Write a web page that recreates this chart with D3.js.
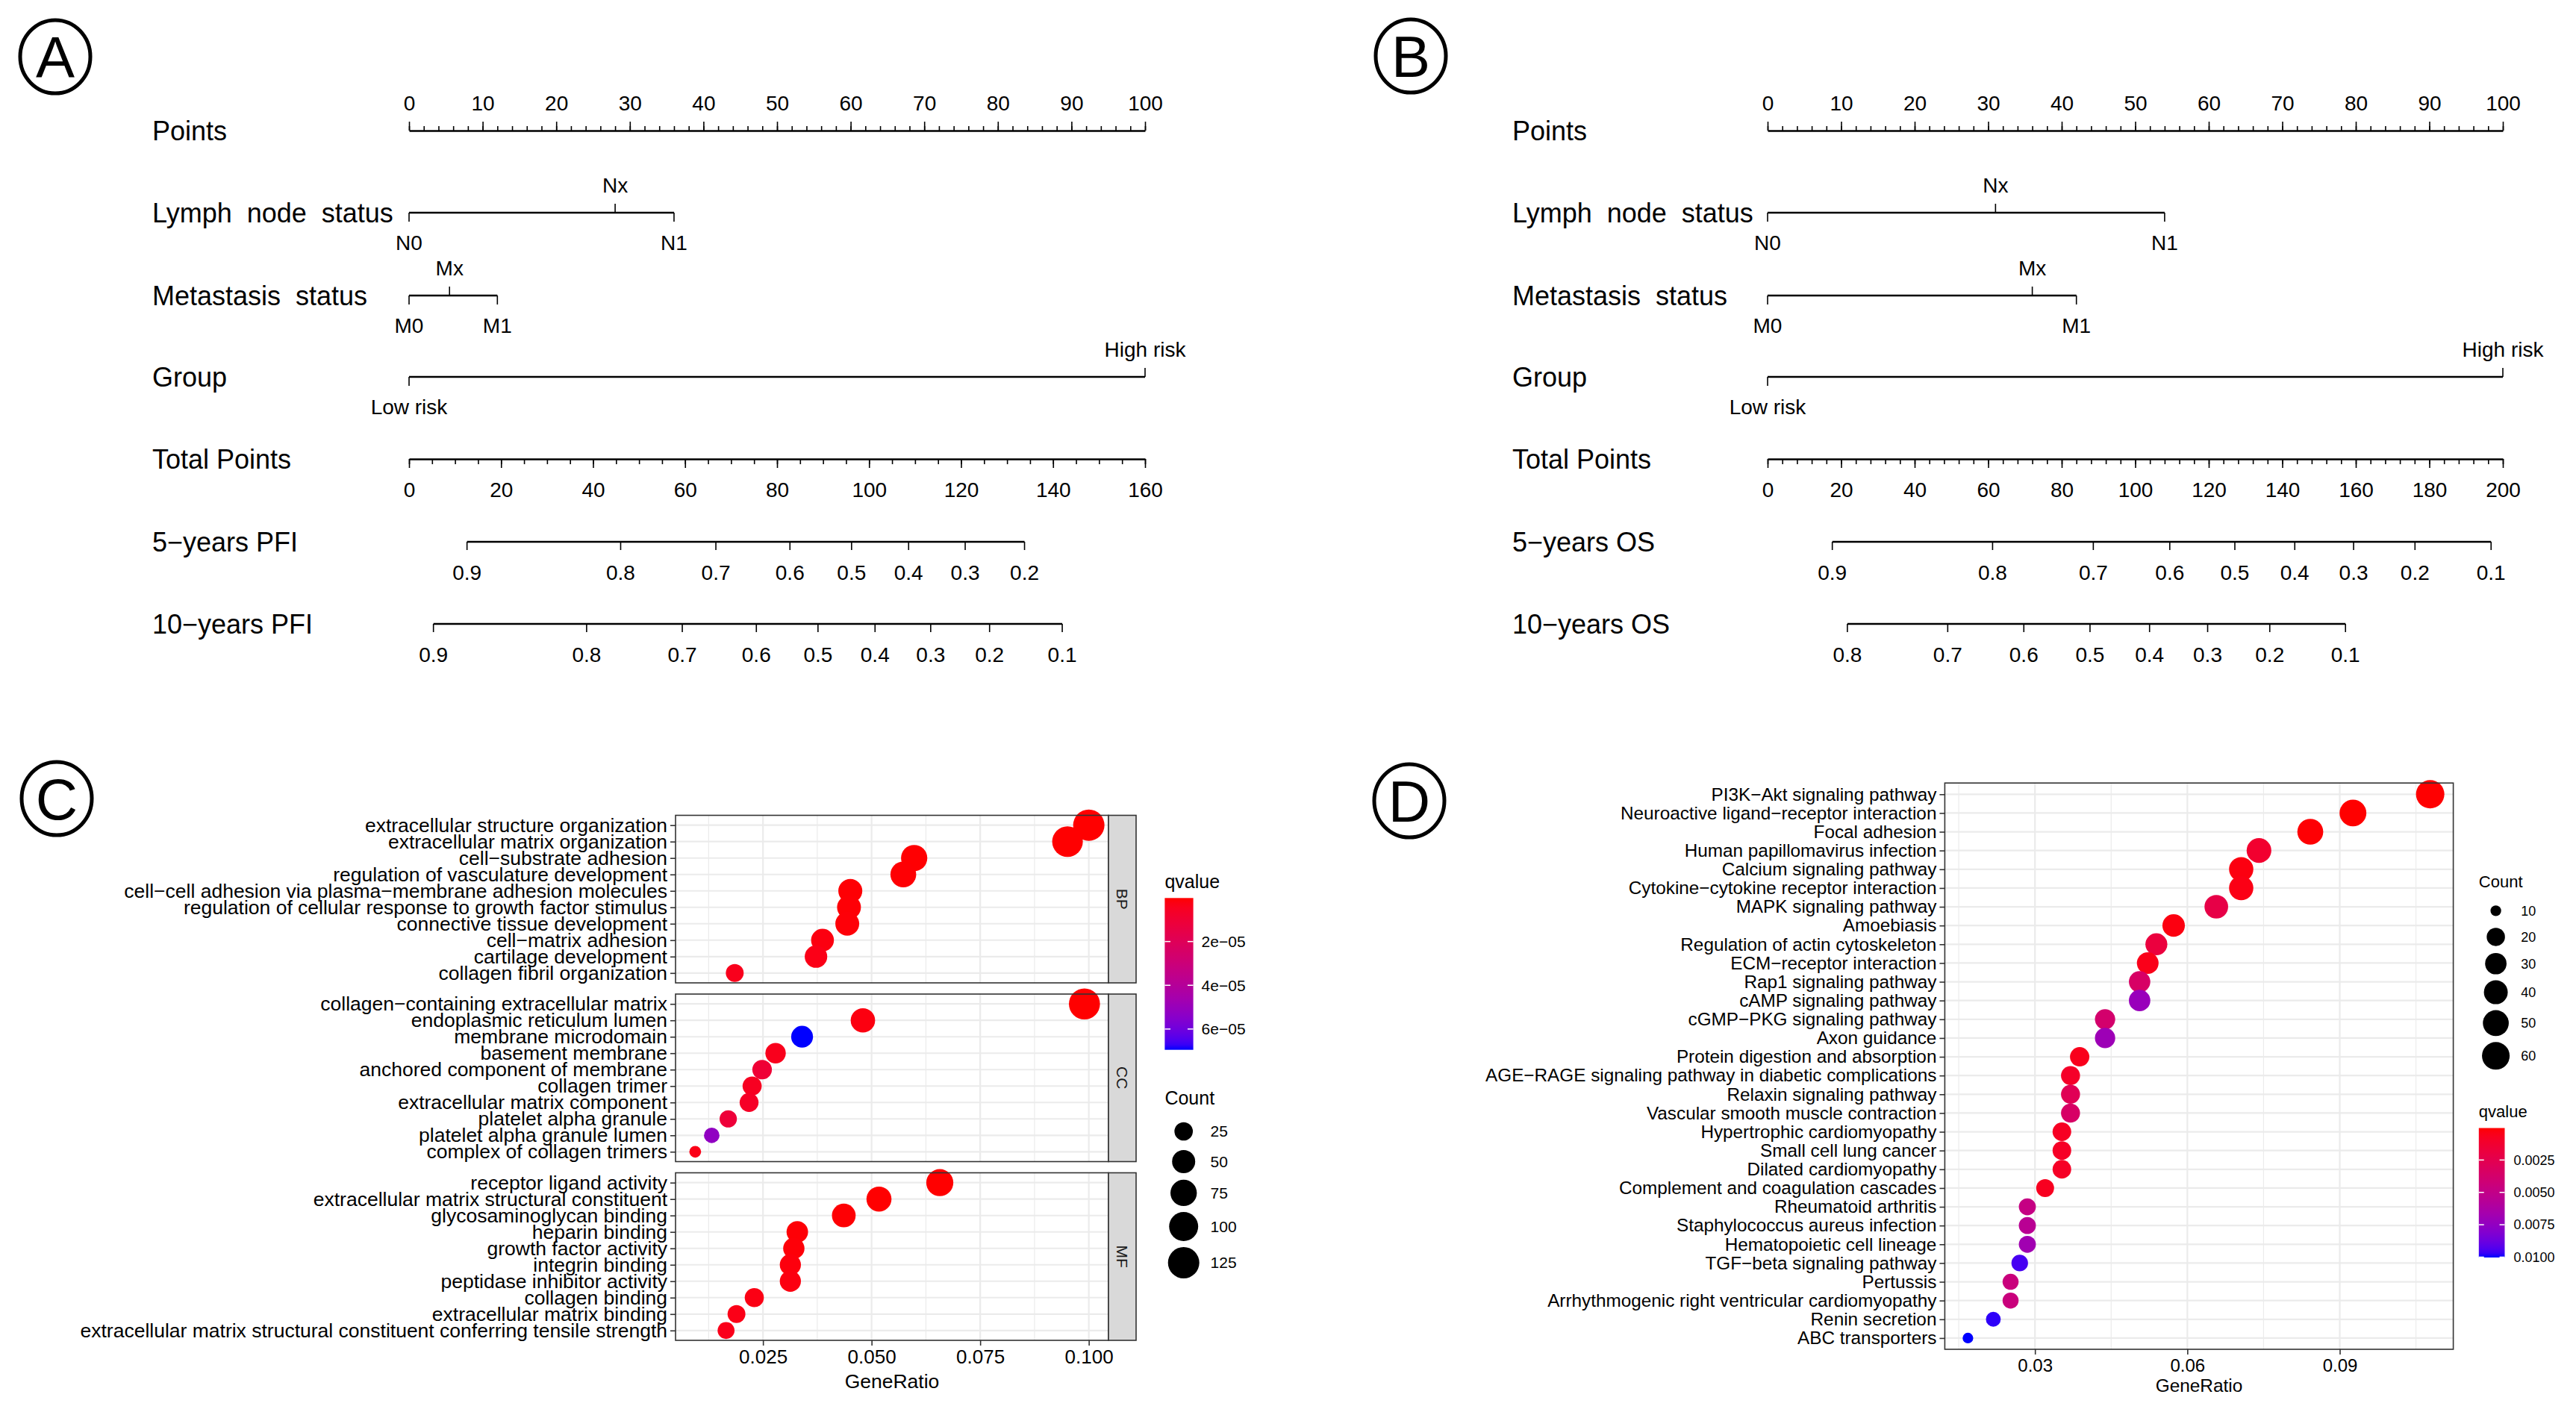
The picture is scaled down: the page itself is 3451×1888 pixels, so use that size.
<!DOCTYPE html>
<html><head><meta charset="utf-8">
<script src="https://cdn.jsdelivr.net/npm/d3@7"></script>
<style>body{margin:0;background:#fff}svg{display:block}</style>
</head><body><svg id="chart" width="3451" height="1888"></svg>
<script>
// ================= DATA =================
// ---- Nomogram A (PFI) ----
const pointsTicks = [0,10,20,30,40,50,60,70,80,90,100];
const nomoLabelsA = ["Points","Lymph  node  status","Metastasis  status","Group","Total Points","5\u2212years PFI","10\u2212years PFI"];
const nomoLabelsB = ["Points","Lymph  node  status","Metastasis  status","Group","Total Points","5\u2212years OS","10\u2212years OS"];
const lymphLevels = ["N0","Nx","N1"];
const lymphSides = ["below","above","below"];
const metLevels = ["M0","Mx","M1"];
const metSides = ["below","above","below"];
const groupLevels = ["Low risk","High risk"];
const groupSides = ["below","above"];
const lymphPointsA = [0, 28, 36];
const metPointsA = [0, 5.5, 12];
const groupPointsA = [0, 100];
const totalTicksA = [0,20,40,60,80,100,120,140,160];
const pfi5ProbsA = [0.9,0.8,0.7,0.6,0.5,0.4,0.3,0.2];
const pfi5TotalA = [12.6,46.0,66.7,82.8,96.2,108.6,120.9,133.8];
const pfi10ProbsA = [0.9,0.8,0.7,0.6,0.5,0.4,0.3,0.2,0.1];
const pfi10TotalA = [5.3,38.6,59.4,75.5,88.9,101.3,113.4,126.2,142.0];
// ---- Nomogram B (OS) ----
const lymphPointsB = [0, 31, 54];
const metPointsB = [0, 36, 42];
const groupPointsB = [0, 100];
const totalTicksB = [0,20,40,60,80,100,120,140,160,180,200];
const os5ProbsB = [0.9,0.8,0.7,0.6,0.5,0.4,0.3,0.2,0.1];
const os5TotalB = [17.6,61.2,88.6,109.4,127.1,143.4,159.4,176.1,196.8];
const os10ProbsB = [0.8,0.7,0.6,0.5,0.4,0.3,0.2,0.1];
const os10TotalB = [21.7,49.0,69.7,87.7,103.9,119.7,136.6,157.2];

// ---- Panel C (GO) ----
const bpTerms = ["extracellular structure organization","extracellular matrix organization","cell\u2212substrate adhesion","regulation of vasculature development","cell\u2212cell adhesion via plasma\u2212membrane adhesion molecules","regulation of cellular response to growth factor stimulus","connective tissue development","cell\u2212matrix adhesion","cartilage development","collagen fibril organization"];
const bpRatio = [0.1000,0.0951,0.0598,0.0573,0.0451,0.0448,0.0444,0.0387,0.0372,0.0185];
const bpCount = [125,117,74,70,56,55,55,48,46,23];
const bpQ = [1e-7,2e-7,3e-7,5e-7,6e-7,8e-7,1e-6,2e-6,3e-6,4e-6];
const ccTerms = ["collagen\u2212containing extracellular matrix","endoplasmic reticulum lumen","membrane microdomain","basement membrane","anchored component of membrane","collagen trimer","extracellular matrix component","platelet alpha granule","platelet alpha granule lumen","complex of collagen trimers"];
const ccRatio = [0.0990,0.0480,0.0340,0.0279,0.0248,0.0225,0.0218,0.0170,0.0132,0.0094];
const ccCount = [122,59,42,34,30,28,27,21,16,12];
const ccQ = [1e-7,2e-6,6.95e-5,4e-6,1.0e-5,5e-6,6e-6,1.1e-5,5.2e-5,3e-6];
const mfTerms = ["receptor ligand activity","extracellular matrix structural constituent","glycosaminoglycan binding","heparin binding","growth factor activity","integrin binding","peptidase inhibitor activity","collagen binding","extracellular matrix binding","extracellular matrix structural constituent conferring tensile strength"];
const mfRatio = [0.0657,0.0517,0.0436,0.0329,0.0321,0.0313,0.0313,0.0230,0.0189,0.0165];
const mfCount = [81,64,54,40,39,38,38,28,23,20];
const mfQ = [1e-7,2e-7,5e-7,8e-7,1e-6,1.5e-6,2e-6,2.5e-6,3e-6,3.5e-6];
const xTicksC = [0.025,0.050,0.075,0.100];
const countLegendC = [25,50,75,100,125];
const qLegendC = [2e-5,4e-5,6e-5];

// ---- Panel D (KEGG) ----
const keggTerms = ["PI3K\u2212Akt signaling pathway","Neuroactive ligand\u2212receptor interaction","Focal adhesion","Human papillomavirus infection","Calcium signaling pathway","Cytokine\u2212cytokine receptor interaction","MAPK signaling pathway","Amoebiasis","Regulation of actin cytoskeleton","ECM\u2212receptor interaction","Rap1 signaling pathway","cAMP signaling pathway","cGMP\u2212PKG signaling pathway","Axon guidance","Protein digestion and absorption","AGE\u2212RAGE signaling pathway in diabetic complications","Relaxin signaling pathway","Vascular smooth muscle contraction","Hypertrophic cardiomyopathy","Small cell lung cancer","Dilated cardiomyopathy","Complement and coagulation cascades","Rheumatoid arthritis","Staphylococcus aureus infection","Hematopoietic cell lineage","TGF\u2212beta signaling pathway","Pertussis","Arrhythmogenic right ventricular cardiomyopathy","Renin secretion","ABC transporters"];
const keggRatio = [0.1078,0.0926,0.0842,0.0741,0.0706,0.0706,0.0657,0.0573,0.0539,0.0522,0.0506,0.0506,0.0438,0.0438,0.0388,0.0370,0.0370,0.0370,0.0353,0.0353,0.0353,0.0320,0.0285,0.0285,0.0285,0.0270,0.0252,0.0252,0.0218,0.0168];
const keggCount = [64,55,50,44,42,42,39,34,32,31,30,30,26,26,23,22,22,22,21,21,21,19,17,17,17,16,15,15,13,10];
const keggQ = [5e-5,3e-5,1e-4,0.0012,0.0003,0.0004,0.0022,0.0003,0.0018,0.0005,0.0035,0.0072,0.0038,0.0070,0.0006,0.0010,0.0028,0.0035,0.0008,0.0009,0.0009,0.0007,0.0048,0.0055,0.0068,0.0095,0.0045,0.0045,0.0098,0.01003];
const xTicksD = [0.03,0.06,0.09];
const countLegendD = [10,20,30,40,50,60];
const qLegendD = [0.0025,0.0050,0.0075,0.0100];

// ================= DRAWING =================
const FONT = '"Liberation Sans", Arial, Helvetica, sans-serif';
const svg = d3.select("#chart").style("font-family", FONT);
svg.append("rect").attr("width",3451).attr("height",1888).attr("fill","#fff");

function circleLetter(cx, cy, letter){
  const g = svg.append("g");
  g.append("ellipse").attr("cx",cx).attr("cy",cy).attr("rx",47).attr("ry",49)
    .attr("fill","none").attr("stroke","#000").attr("stroke-width",5);
  g.append("text").attr("x",cx).attr("y",cy).attr("dy","0.36em").attr("text-anchor","middle")
    .attr("font-size",78).attr("fill","#000").text(letter);
}

function styleAxis(sel, fs){
  sel.selectAll("text").attr("font-size",fs).attr("font-family",FONT).attr("fill","#000");
  sel.selectAll("line").attr("stroke","#000").attr("stroke-width",1.6);
  sel.selectAll("path.domain").attr("stroke","#000").attr("stroke-width",2.6);
}

function drawNomogram(o){
  const g = svg.append("g");
  const px = d3.scaleLinear().domain([0,100]).range([o.x0,o.x1]);
  const tx = d3.scaleLinear().domain([0,o.maxTotal]).range([o.x0,o.x1]);
  const Y = [175,285,396,505,615,726,836];
  const TF = 28;
  o.labels.forEach((lab,i)=>{
    g.append("text").attr("x",o.labelX).attr("y",Y[i]).attr("dy","0.35em")
      .attr("font-size",36).attr("fill","#000").attr("xml:space","preserve")
      .style("white-space","pre").text(lab);
  });
  // Points axis
  const minor = g.append("g").attr("transform",`translate(0,${Y[0]})`)
    .call(d3.axisTop(px).tickValues(d3.range(0,101,2)).tickSize(6).tickSizeOuter(0).tickFormat(""));
  minor.select(".domain").remove();
  styleAxis(minor, TF);
  const major = g.append("g").attr("transform",`translate(0,${Y[0]})`)
    .call(d3.axisTop(px).tickValues(pointsTicks).tickSize(12).tickSizeOuter(0).tickPadding(15));
  styleAxis(major, TF);

  function factorRow(y, levels, pts, sides){
    const ext = d3.extent(pts);
    g.append("line").attr("x1",px(ext[0])).attr("x2",px(ext[1])).attr("y1",y).attr("y2",y)
      .attr("stroke","#000").attr("stroke-width",2.6);
    levels.forEach((lv,i)=>{
      const x = px(pts[i]); const up = sides[i]==="above";
      g.append("line").attr("x1",x).attr("x2",x).attr("y1",y).attr("y2",up?y-12:y+12)
        .attr("stroke","#000").attr("stroke-width",1.6);
      g.append("text").attr("x",x).attr("y",up?y-37:y+40).attr("dy","0.35em")
        .attr("text-anchor","middle").attr("font-size",TF).attr("fill","#000").text(lv);
    });
  }
  factorRow(Y[1], lymphLevels, o.lymph, lymphSides);
  factorRow(Y[2], metLevels, o.met, metSides);
  factorRow(Y[3], groupLevels, o.group, groupSides);

  // Total points
  const tmin = g.append("g").attr("transform",`translate(0,${Y[4]})`)
    .call(d3.axisBottom(tx).tickValues(d3.range(0,o.maxTotal+0.1,o.minorStep)).tickSize(7).tickSizeOuter(0).tickFormat(""));
  tmin.select(".domain").remove();
  styleAxis(tmin, TF);
  const tmaj = g.append("g").attr("transform",`translate(0,${Y[4]})`)
    .call(d3.axisBottom(tx).tickValues(o.totalTicks).tickSize(12).tickSizeOuter(0).tickPadding(19));
  styleAxis(tmaj, TF);

  function probRow(y, probs, totals){
    const ext = d3.extent(totals);
    g.append("line").attr("x1",tx(ext[0])).attr("x2",tx(ext[1])).attr("y1",y).attr("y2",y)
      .attr("stroke","#000").attr("stroke-width",2.6);
    probs.forEach((p,i)=>{
      const x = tx(totals[i]);
      g.append("line").attr("x1",x).attr("x2",x).attr("y1",y).attr("y2",y+11)
        .attr("stroke","#000").attr("stroke-width",1.6);
      g.append("text").attr("x",x).attr("y",y+41).attr("dy","0.35em").attr("text-anchor","middle")
        .attr("font-size",TF).attr("fill","#000").text(p.toFixed(1));
    });
  }
  probRow(Y[5], o.p5probs, o.p5total);
  probRow(Y[6], o.p10probs, o.p10total);
}

drawNomogram({labelX:204, x0:548, x1:1534, maxTotal:160, minorStep:5, labels:nomoLabelsA,
  lymph:lymphPointsA, met:metPointsA, group:groupPointsA, totalTicks:totalTicksA,
  p5probs:pfi5ProbsA, p5total:pfi5TotalA, p10probs:pfi10ProbsA, p10total:pfi10TotalA});
drawNomogram({labelX:2026, x0:2368, x1:3353, maxTotal:200, minorStep:4, labels:nomoLabelsB,
  lymph:lymphPointsB, met:metPointsB, group:groupPointsB, totalTicks:totalTicksB,
  p5probs:os5ProbsB, p5total:os5TotalB, p10probs:os10ProbsB, p10total:os10TotalB});

circleLetter(74,76,"A");
circleLetter(1890,75,"B");
circleLetter(76,1070,"C");
circleLetter(1888,1073,"D");

// ---------- dot plots ----------
function makeSize(counts, c){
  const [lo,hi] = d3.extent(counts);
  const s = d3.scaleSqrt().domain([0,hi-lo]).range([1.5*c,4*c]).clamp(true);
  return v => s(Math.max(0, v-lo));
}
function makeColor(qs){
  return d3.scaleLinear().domain(d3.extent(qs)).range(["red","blue"]).interpolate(d3.interpolateLab);
}
function expandedDomain(vals){
  const [a,b] = d3.extent(vals); const e = (b-a)*0.05; return [a-e,b+e];
}

function dotPlot(o){
  const g = svg.append("g");
  const x = d3.scaleLinear().domain(expandedDomain(o.allRatio)).range([o.left,o.right]);
  const [d0,d1] = x.domain();
  const step = o.xTicks[1]-o.xTicks[0];
  const minorTicks = d3.range(o.xTicks[0]-step*2.5, d1, step).filter(v=>v>d0 && v<d1 && !o.xTicks.some(t=>Math.abs(t-v)<1e-9));
  o.facets.forEach((f,fi)=>{
    const top = o.tops[fi], bot = top + o.height;
    const y = d3.scalePoint().domain(f.terms).range([top,bot]).padding(0.6);
    // background grid
    minorTicks.forEach(v=> g.append("line").attr("x1",x(v)).attr("x2",x(v)).attr("y1",top).attr("y2",bot).attr("stroke","#ebebeb").attr("stroke-width",1.2));
    o.xTicks.forEach(v=> g.append("line").attr("x1",x(v)).attr("x2",x(v)).attr("y1",top).attr("y2",bot).attr("stroke","#ebebeb").attr("stroke-width",2.2));
    f.terms.forEach(t=> g.append("line").attr("x1",o.left).attr("x2",o.right).attr("y1",y(t)).attr("y2",y(t)).attr("stroke","#ebebeb").attr("stroke-width",2.2));
    // y axis
    const ya = g.append("g").attr("transform",`translate(${o.left},0)`)
      .call(d3.axisLeft(y).tickSize(7).tickPadding(4));
    ya.select(".domain").remove();
    ya.selectAll("text").attr("font-size",o.yFont).attr("font-family",FONT).attr("fill","#000");
    ya.selectAll("line").attr("stroke","#333").attr("stroke-width",1.6);
    // dots
    g.append("g").selectAll("circle").data(f.terms.map((t,i)=>({t, r:f.ratio[i], c:f.count[i], q:f.q[i]})))
      .join("circle").attr("cx",d=>x(d.r)).attr("cy",d=>y(d.t)).attr("r",d=>o.size(d.c)).attr("fill",d=>o.color(d.q));
    g.append("rect").attr("x",o.left).attr("y",top).attr("width",o.right-o.left).attr("height",o.height)
      .attr("fill","none").attr("stroke","#333").attr("stroke-width",1.6);
    if (f.name){
      g.append("rect").attr("x",o.right).attr("y",top).attr("width",o.stripW).attr("height",o.height)
        .attr("fill","#d9d9d9").attr("stroke","#333").attr("stroke-width",1.6);
      const cx = o.right + o.stripW/2, cy = top + o.height/2;
      g.append("text").attr("transform",`translate(${cx},${cy}) rotate(90)`).attr("text-anchor","middle")
        .attr("dy","0.35em").attr("font-size",21).attr("fill","#1a1a1a").text(f.name);
    }
    if (fi === o.facets.length-1){
      const xa = g.append("g").attr("transform",`translate(0,${bot})`)
        .call(d3.axisBottom(x).tickValues(o.xTicks).tickFormat(d3.format(o.xFmt)).tickSize(7).tickPadding(6));
      xa.select(".domain").remove();
      xa.selectAll("text").attr("font-size",o.xFont).attr("font-family",FONT).attr("fill","#000");
      xa.selectAll("line").attr("stroke","#333").attr("stroke-width",1.6);
      g.append("text").attr("x",(o.left+o.right)/2).attr("y",o.titleY).attr("dy","0.35em")
        .attr("text-anchor","middle").attr("font-size",o.titleFont).attr("fill","#000").text("GeneRatio");
    }
  });
}

function expFmt(v){
  const [m,e] = v.toExponential(0).split("e");
  const n = Math.abs(+e); return m + "e" + (+e<0?"\u2212":"+") + (n<10?"0"+n:n);
}

function colorbar(o){
  const g = svg.append("g");
  const id = "grad"+o.id;
  const grad = svg.append("defs").append("linearGradient").attr("id",id)
    .attr("x1",0).attr("x2",0).attr("y1",0).attr("y2",1);
  const [a,b] = o.color.domain();
  d3.range(0,31).forEach(i=> grad.append("stop").attr("offset",(i/30*100)+"%").attr("stop-color",o.color(a+(b-a)*i/30)));
  g.append("text").attr("x",o.x).attr("y",o.titleY).attr("dy","0.35em").attr("font-size",o.titleFont).attr("fill","#000").text("qvalue");
  g.append("rect").attr("x",o.x).attr("y",o.top).attr("width",o.w).attr("height",o.h).attr("fill",`url(#${id})`);
  const ly = d3.scaleLinear().domain([a,b]).range([o.top,o.top+o.h]);
  o.ticks.forEach(t=>{
    const yy = ly(t);
    g.append("line").attr("x1",o.x).attr("x2",o.x+o.w*0.2).attr("y1",yy).attr("y2",yy).attr("stroke","#fff").attr("stroke-width",1.5);
    g.append("line").attr("x1",o.x+o.w*0.8).attr("x2",o.x+o.w).attr("y1",yy).attr("y2",yy).attr("stroke","#fff").attr("stroke-width",1.5);
    g.append("text").attr("x",o.x+o.w+o.gap).attr("y",yy).attr("dy","0.35em").attr("font-size",o.labelFont).attr("fill","#000").text(o.fmt(t));
  });
}

function countLegend(o){
  const g = svg.append("g");
  g.append("text").attr("x",o.x).attr("y",o.titleY).attr("dy","0.35em").attr("font-size",o.titleFont).attr("fill","#000").text("Count");
  let y = o.keysTop;
  o.values.forEach(v=>{
    const r = o.size(v); const kh = Math.max(o.keyMin, 2*r+8); const cy = y + kh/2;
    g.append("circle").attr("cx",o.x+o.cdx).attr("cy",cy).attr("r",r).attr("fill","#000");
    g.append("text").attr("x",o.x+o.ldx).attr("y",cy).attr("dy","0.35em").attr("font-size",o.labelFont).attr("fill","#000").text(v);
    y += kh;
  });
}

// Panel C
const allCountC = bpCount.concat(ccCount, mfCount);
const sizeC = makeSize(allCountC, 5.25);
const colorC = makeColor(bpQ.concat(ccQ, mfQ));
dotPlot({left:905, right:1485, stripW:37, tops:[1092.5,1332,1571.5], height:224.5,
  allRatio: bpRatio.concat(ccRatio, mfRatio), xTicks:xTicksC, xFmt:".3f",
  facets:[{name:"BP",terms:bpTerms,ratio:bpRatio,count:bpCount,q:bpQ},
          {name:"CC",terms:ccTerms,ratio:ccRatio,count:ccCount,q:ccQ},
          {name:"MF",terms:mfTerms,ratio:mfRatio,count:mfCount,q:mfQ}],
  size:sizeC, color:colorC, yFont:26.5, xFont:26, titleFont:26.5, titleY:1851});
colorbar({id:"C", x:1560.4, titleY:1181.7, top:1203.3, w:38.2, h:203.4, color:colorC, ticks:qLegendC,
  fmt:expFmt, titleFont:25, labelFont:21, gap:11});
countLegend({x:1560.4, titleY:1471.6, keysTop:1495.75, values:countLegendC, size:sizeC, keyMin:40.5,
  cdx:25.3, ldx:61.2, titleFont:25, labelFont:21});

// Panel D
const sizeD = makeSize(keggCount, 4.75);
const colorD = makeColor(keggQ);
dotPlot({left:2605.4, right:3286.6, stripW:0, tops:[1049.2], height:758.8,
  allRatio: keggRatio, xTicks:xTicksD, xFmt:".2f",
  facets:[{name:null,terms:keggTerms,ratio:keggRatio,count:keggCount,q:keggQ}],
  size:sizeD, color:colorD, yFont:24.3, xFont:24, titleFont:24.4, titleY:1856});
countLegend({x:3320.8, titleY:1181.6, keysTop:1202.9, values:countLegendD, size:sizeD, keyMin:35,
  cdx:22.8, ldx:56.4, titleFont:22, labelFont:18});
colorbar({id:"D", x:3320.8, titleY:1489.6, top:1511.5, w:34.7, h:173.5, color:colorD, ticks:qLegendD,
  fmt:d3.format(".4f"), titleFont:22, labelFont:18, gap:12});
</script></body></html>
